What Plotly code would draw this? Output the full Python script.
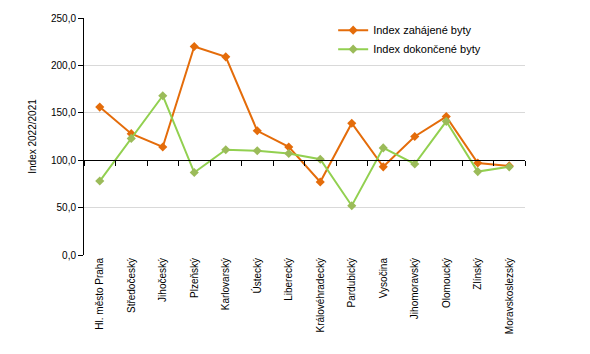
import plotly.graph_objects as go

categories = ["Hl. město Praha", "Středočeský", "Jihočeský", "Plzeňský", "Karlovarský",
              "Ústecký", "Liberecký", "Královéhradecký", "Pardubický", "Vysočina",
              "Jihomoravský", "Olomoucký", "Zlínský", "Moravskoslezský"]
zahajene = [156, 128, 114, 220, 209, 131, 114, 77, 139, 93, 125, 146, 97, 94]
dokoncene = [78, 123, 168, 87, 111, 110, 107, 101, 52, 113, 96, 141, 88, 93]
y_ticks = [0, 50, 100, 150, 200, 250]

ORANGE = "#E46C0A"
GREEN = "#92D050"
GREEN_MARK = "#9BBB59"
FONT = "Liberation Sans, Arial, sans-serif"

fig = go.Figure()
fig.add_trace(go.Scatter(x=categories, y=zahajene, name="Index zahájené byty",
                         mode="lines+markers", line=dict(color=ORANGE, width=2),
                         marker=dict(symbol="diamond", size=7, color=ORANGE)))
fig.add_trace(go.Scatter(x=categories, y=dokoncene, name="Index dokončené byty",
                         mode="lines+markers", line=dict(color=GREEN, width=2),
                         marker=dict(symbol="diamond", size=7, color=GREEN_MARK)))
# helper trace so the crossing axis at 100 is drawn
n = len(categories)
fig.add_trace(go.Scatter(x=[-0.5, n - 0.5], y=[100, 100], xaxis="x2", mode="lines",
                         line=dict(width=0), showlegend=False, hoverinfo="skip"))

fig.update_layout(
    width=590, height=354,
    margin=dict(l=84, r=65, t=14, b=99),
    paper_bgcolor="white", plot_bgcolor="white",
    font=dict(family=FONT, size=10, color="black"),
    separators=", ",
    showlegend=True,
    legend=dict(x=0.565, y=1.01, xanchor="left", yanchor="top",
                bgcolor="rgba(0,0,0,0)", font=dict(size=11),
                itemwidth=30, tracegroupgap=0),
    xaxis=dict(type="category", range=[-0.5, n - 0.5], tickangle=-90,
               showgrid=False, showline=False, ticks="", zeroline=False,
               tickfont=dict(size=10)),
    xaxis2=dict(overlaying="x", anchor="free", position=0.4, side="bottom",
                range=[-0.5, n - 0.5], showline=True, linecolor="black", linewidth=1,
                ticks="outside", ticklen=5, tickcolor="black",
                tickvals=[i + 0.5 for i in range(-1, n)],
                showticklabels=False, showgrid=False, zeroline=False),
    yaxis=dict(range=[0, 250], tickvals=y_ticks, tickformat=".1f",
               showgrid=True, gridcolor="#D9D9D9", gridwidth=1,
               showline=True, linecolor="black", linewidth=1,
               ticks="outside", ticklen=5, tickcolor="black",
               zeroline=False, tickfont=dict(size=10),
               title=dict(text="Index 2022/2021", font=dict(size=10), standoff=12)),
)

fig.write_html("out.html")
